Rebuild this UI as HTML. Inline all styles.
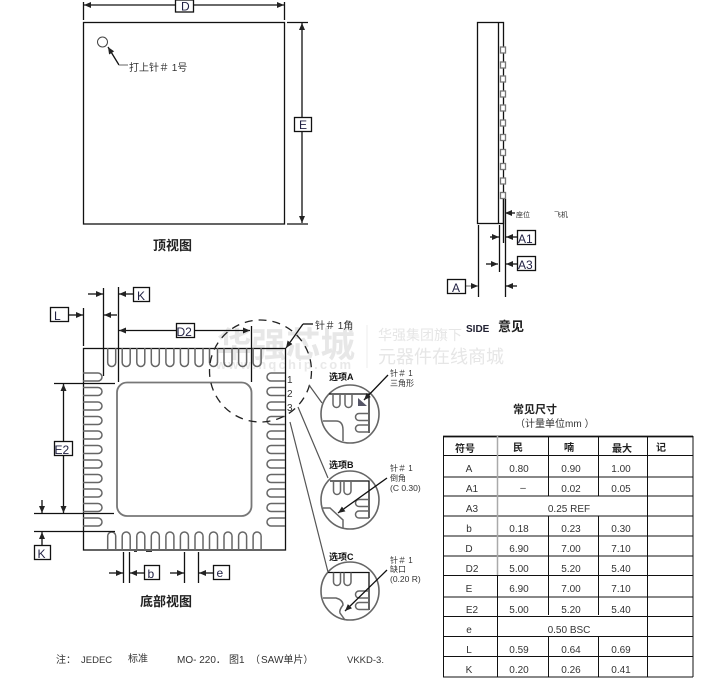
<!DOCTYPE html>
<html><head><meta charset="utf-8"><style>
html,body{margin:0;padding:0;background:#fff;width:716px;height:692px;overflow:hidden}
svg{display:block}
text{font-family:"Liberation Sans","Noto Sans CJK SC",sans-serif;fill:#333}
.l{stroke:#111;stroke-width:1.3;fill:none}
.g{stroke:#666;stroke-width:1.5;fill:none}
.a{marker-end:url(#ah)}
.b{fill:#fff;stroke:#111;stroke-width:1.3}
.t{font-size:12px;fill:#224}
.s{font-size:8px}
.o{font-size:9px;font-weight:bold;fill:#111}
.h{font-size:13px;font-weight:bold;fill:#222}
.c{font-size:10px;text-anchor:middle;fill:#333}
.th{font-size:10px;font-weight:bold;text-anchor:middle;fill:#222}
.f{font-size:10px}
</style></head><body>
<svg width="716" height="692" viewBox="0 0 716 692" xmlns="http://www.w3.org/2000/svg">
<defs>
<marker id="ah" markerUnits="userSpaceOnUse" markerWidth="8" markerHeight="7" refX="7" refY="3" orient="auto"><path d="M0 0L7 3L0 6Z" fill="#222"/></marker>
<path id="pt" d="M-4 348V362.500a4 4 0 0 0 8 0V348" class="g"/>
<path id="pb" d="M-4 550V536a4 4 0 0 1 8 0V550" class="g"/>
<path id="pl" d="M83 -4H98a4 4 0 0 1 0 8H83" class="g"/>
<path id="pr" d="M285 -4H271a4 4 0 0 0 0 8H285" class="g"/>
</defs>

<!-- watermark -->
<g>
<text x="217" y="357" style="font-size:34.500px;font-weight:bold;fill:#e7e7e7">华强芯城</text>
<text x="216" y="369" style="font-size:13px;font-weight:bold;fill:#e9e9e9;letter-spacing:2.200px">www.hqchip.com</text>
<line x1="367" y1="325" x2="367" y2="368" stroke="#eee" stroke-width="1"/>
<text x="378" y="340" style="font-size:14px;fill:#e6e6e6">华强集团旗下</text>
<text x="378" y="363" style="font-size:18px;fill:#e6e6e6">元器件在线商城</text>
</g>

<!-- top view -->
<rect x="83.500" y="22.500" width="201" height="201.500" class="l"/>
<path class="l" d="M83.500 2V20M284.500 2V20M287 22.500H308M287 224H308"/>
<path class="l a" d="M175 5H84"/><path class="l a" d="M193 5H284"/>
<rect x="175.500" y="0" width="18" height="12" class="b"/><text x="181" y="10.500" class="t">D</text>
<path class="l a" d="M302 117V23"/><path class="l a" d="M302 131V223"/>
<rect x="294.500" y="117.500" width="17" height="14" class="b"/><text x="299" y="129" class="t">E</text>
<circle cx="102.500" cy="42" r="5" fill="none" stroke="#444" stroke-width="1"/>
<path class="l a" d="M119 65L108 47"/><path d="M119 65H128" stroke="#999" stroke-width="1.500"/>
<text x="129" y="71" style="font-size:10px">打上针＃ 1号</text>
<text x="153" y="250" class="h">顶视图</text>

<!-- side view -->
<rect x="477.500" y="22.500" width="26" height="201" class="l"/>
<line x1="498.500" y1="22" x2="498.500" y2="224" class="l"/>
<g fill="#fff" stroke="#777" stroke-width="1.300">
<rect x="500.500" y="47" width="5" height="6"/><rect x="500.500" y="62" width="5" height="6"/><rect x="500.500" y="76" width="5" height="6"/><rect x="500.500" y="91" width="5" height="6"/><rect x="500.500" y="105" width="5" height="6"/><rect x="500.500" y="120" width="5" height="6"/><rect x="500.500" y="134.500" width="5" height="6"/><rect x="500.500" y="149.500" width="5" height="6"/><rect x="500.500" y="163.500" width="5" height="6"/><rect x="500.500" y="178" width="5" height="6"/><rect x="500.500" y="192.500" width="5" height="6"/>
</g>
<path class="l" d="M478.500 225V297M499.500 225V272M503.500 243V199M505.500 199V297"/>
<path class="l a" d="M515 213H505"/>
<text x="516" y="217" class="s" style="font-size:7px">座位</text><text x="554" y="217" class="s" style="font-size:7px">飞机</text>
<path class="l a" d="M490 237H499"/><path class="l a" d="M517 237H506"/>
<path class="l a" d="M486 264H498"/><path class="l a" d="M517 264H506"/>
<path class="l a" d="M517 286H506"/>
<path d="M466 286H478" stroke="#888" stroke-width="1.300" marker-end="url(#ah)" fill="none"/>
<rect x="517.500" y="230.500" width="18" height="14" class="b"/><text x="518" y="243" class="t">A1</text>
<rect x="517.500" y="256.500" width="18" height="14" class="b"/><text x="518" y="269" class="t">A3</text>
<rect x="447.500" y="279.500" width="18" height="14" class="b"/><text x="452" y="292" class="t">A</text>
<text x="466" y="332" style="font-size:10px;font-weight:bold;fill:#223">SIDE</text>
<text x="498" y="331" class="h">意见</text>

<!-- bottom view -->
<rect x="83.500" y="348.500" width="202" height="201.500" class="l"/>
<rect x="117" y="382.500" width="134.500" height="133.500" rx="10" fill="none" stroke="#777" stroke-width="1.800"/>
<use href="#pt" x="111.700"/><use href="#pt" x="126.200"/><use href="#pt" x="140.800"/><use href="#pt" x="155.300"/><use href="#pt" x="169.900"/><use href="#pt" x="184.400"/><use href="#pt" x="199"/><use href="#pt" x="213.500"/><use href="#pt" x="228"/><use href="#pt" x="242.600"/><use href="#pt" x="257.100"/>
<use href="#pb" x="111.700"/><use href="#pb" x="126.200"/><use href="#pb" x="140.800"/><use href="#pb" x="155.300"/><use href="#pb" x="169.900"/><use href="#pb" x="184.400"/><use href="#pb" x="199"/><use href="#pb" x="213.500"/><use href="#pb" x="228"/><use href="#pb" x="242.600"/><use href="#pb" x="257.100"/>
<use href="#pl" y="377"/><use href="#pl" y="391.500"/><use href="#pl" y="406"/><use href="#pl" y="420.500"/><use href="#pl" y="435"/><use href="#pl" y="449.500"/><use href="#pl" y="464"/><use href="#pl" y="478.500"/><use href="#pl" y="493"/><use href="#pl" y="507.500"/><use href="#pl" y="522"/>
<use href="#pr" y="377"/><use href="#pr" y="391.500"/><use href="#pr" y="406"/><use href="#pr" y="420.500"/><use href="#pr" y="435"/><use href="#pr" y="449.500"/><use href="#pr" y="464"/><use href="#pr" y="478.500"/><use href="#pr" y="493"/><use href="#pr" y="507.500"/><use href="#pr" y="522"/>
<path d="M134 551.500H137M146 551.500H152" stroke="#333" stroke-width="1"/>

<path class="l" d="M83.500 308V346M103.500 288V376M118.500 287V382M251.500 326V382M54 383.500H115M34 513.500H114M34 531.500H115M123.500 552V583M129.500 552V583M184.500 552V583M198.500 552V583"/>
<path class="l a" d="M88 294H103"/><path class="l a" d="M133 294H119"/>
<path class="l a" d="M68 315H83"/><path class="l a" d="M117 315H104"/>
<path class="l a" d="M176 330.500H119"/><path class="l a" d="M194 330.500H250"/>
<path class="l a" d="M63.500 442V384"/><path class="l a" d="M63.500 455V513"/>
<path class="l a" d="M42 500V513"/><path class="l a" d="M42 546V532"/>
<path class="l a" d="M109 573H123"/><path class="l a" d="M144 573H130"/>
<path class="l a" d="M170 573H184"/><path class="l a" d="M213 573H199"/>
<rect x="50.500" y="307.500" width="18" height="14" class="b"/><text x="54" y="320" class="t">L</text>
<rect x="133.500" y="287.500" width="16" height="14" class="b"/><text x="137" y="300" class="t">K</text>
<rect x="176.500" y="323.500" width="18" height="14" class="b"/><text x="176.500" y="336" class="t">D2</text>
<rect x="54.500" y="441.500" width="18" height="14" class="b"/><text x="54.500" y="454" class="t">E2</text>
<rect x="34.500" y="545.500" width="16" height="14" class="b"/><text x="37.500" y="558" class="t">K</text>
<rect x="144.500" y="565.500" width="15" height="14" class="b"/><text x="147.500" y="578" class="t">b</text>
<rect x="213.500" y="565.500" width="16" height="14" class="b"/><text x="216.500" y="577" class="t">e</text>
<text x="140" y="606" class="h">底部视图</text>

<!-- dashed circle -->
<circle cx="260.500" cy="371" r="51" fill="none" stroke="#222" stroke-width="1.300" stroke-dasharray="8 6"/>
<path class="l" d="M313 324H303"/><path class="l a" d="M303 324L286 348"/>
<text x="315" y="329" style="font-size:10px">针＃ 1角</text>
<text x="287" y="383" style="font-size:10px">1</text><text x="287" y="397" style="font-size:10px">2</text><text x="287" y="411" style="font-size:10px">3</text>

<!-- leaders -->
<path d="M298 407L328 478M290 422L328 572M309 385L322 403" stroke="#555" stroke-width="1.200" fill="none"/>

<!-- option A -->
<circle cx="350" cy="414" r="29" fill="#fff" stroke="#666" stroke-width="1.600"/>
<path class="l" d="M329 394H369V433"/>
<path class="g" d="M333 394V404a3.500 3.500 0 0 0 7 0V394M345 394V404a3.500 3.500 0 0 0 7 0V394M369 413.500H359a3.500 3.500 0 0 0 0 7H369M369 425H359a3.500 3.500 0 0 0 0 7H369M323 421H336Q343 421 343 430V441"/>
<path d="M358 398L367 406H358Z" fill="#556"/>
<path class="l a" d="M388 375L364 400"/>
<text x="329" y="380" class="o">选项A</text>
<text x="390" y="376" class="s">针＃ 1</text><text x="390" y="386" class="s">三角形</text>

<!-- option B -->
<circle cx="350" cy="500" r="29" fill="#fff" stroke="#666" stroke-width="1.600"/>
<path class="l" d="M330 481H369V518"/>
<path class="g" d="M333.500 481V491a3.500 3.500 0 0 0 7 0V481M344 481V491a3.500 3.500 0 0 0 7 0V481M369 499.500H359a3.500 3.500 0 0 0 0 7H369M369 511H359a3.500 3.500 0 0 0 0 7H369M323 508H330L343 520V528"/>
<path class="l a" d="M387 478L338 513"/>
<text x="329" y="468" class="o">选项B</text>
<text x="390" y="471" class="s">针＃ 1</text><text x="390" y="481" class="s">倒角</text><text x="390" y="491" class="s" style="font-size:8.500px">(C 0.30)</text>

<!-- option C -->
<circle cx="350" cy="591" r="29" fill="#fff" stroke="#666" stroke-width="1.600"/>
<path class="l" d="M328 572.500H369V610"/>
<path class="g" d="M333.500 572.500V582a3.500 3.500 0 0 0 7 0V572.500M344 572.500V582a3.500 3.500 0 0 0 7 0V572.500M369 591H359a3.500 3.500 0 0 0 0 7H369M369 602.500H359a3.500 3.500 0 0 0 0 7H369M323 598H336Q343 600 343 605Q339 610 340 613L345 620"/>
<path class="l a" d="M387 570L345 611"/>
<text x="329" y="560" class="o">选项C</text>
<text x="390" y="563" class="s">针＃ 1</text><text x="390" y="572" class="s">缺口</text><text x="390" y="582" class="s" style="font-size:8.500px">(0.20 R)</text>

<!-- footer -->
<g>
<text x="56" y="663" class="f">注：</text><text x="81" y="663" class="f" style="font-size:9.500px">JEDEC</text><text x="128" y="662" class="f">标准</text><text x="177" y="663" class="f">MO- 220．</text><text x="229" y="663" class="f">图1</text><text x="250" y="663" class="f">（</text><text x="261" y="663" class="f">SAW单片）</text><text x="347" y="663" class="f" style="font-size:9.500px">VKKD-3.</text>
</g>

<!-- table -->
<text x="513" y="413" style="font-size:11px;font-weight:bold;fill:#222">常见尺寸</text>
<text x="515" y="427" style="font-size:10px">（计量单位mm ）</text>
<g stroke="#111" stroke-width="1" fill="none">
<path d="M443 436.500H693" stroke-width="1.800"/>
<path d="M443 455.500H693M443 477H693M443 496H693M443 516H693M443 536H693M443 556H693M443 575.500H693M443 597H693M443 616.500H693M443 636.500H693M443 656.500H693M443 677H693"/>
<path d="M443.500 436V677M693 436V677M647.500 436V677"/>
<path d="M548.500 436V496M598.500 436V496M548.500 516V615M598.500 516V615M548.500 636V677M598.500 636V677"/>
<path d="M497.500 575V677"/>
<path d="M497.500 436V575" stroke="#aaa" stroke-width="1.500"/>
</g>
<text x="465" y="452" class="th">符号</text><text x="518" y="451" class="th">民</text><text x="569" y="451" class="th">喃</text><text x="622" y="452" class="th">最大</text><text x="661" y="451" class="th">记</text>
<text x="469" y="472" class="c">A</text><text x="519" y="472" class="c">0.80</text><text x="571" y="472" class="c">0.90</text><text x="621" y="472" class="c">1.00</text>
<text x="472" y="492" class="c">A1</text><text x="523" y="491" class="c">–</text><text x="571" y="492" class="c">0.02</text><text x="621" y="492" class="c">0.05</text>
<text x="472" y="512" class="c">A3</text><text x="569" y="512" class="c">0.25 REF</text>
<text x="469" y="532" class="c">b</text><text x="519" y="532" class="c">0.18</text><text x="571" y="532" class="c">0.23</text><text x="621" y="532" class="c">0.30</text>
<text x="469" y="552" class="c">D</text><text x="519" y="552" class="c">6.90</text><text x="571" y="552" class="c">7.00</text><text x="621" y="552" class="c">7.10</text>
<text x="472" y="572" class="c">D2</text><text x="519" y="572" class="c">5.00</text><text x="571" y="572" class="c">5.20</text><text x="621" y="572" class="c">5.40</text>
<text x="469" y="592" class="c">E</text><text x="519" y="592" class="c">6.90</text><text x="571" y="592" class="c">7.00</text><text x="621" y="592" class="c">7.10</text>
<text x="472" y="613" class="c">E2</text><text x="519" y="613" class="c">5.00</text><text x="571" y="613" class="c">5.20</text><text x="621" y="613" class="c">5.40</text>
<text x="469" y="633" class="c">e</text><text x="569" y="633" class="c">0.50 BSC</text>
<text x="469" y="653" class="c">L</text><text x="519" y="653" class="c">0.59</text><text x="571" y="653" class="c">0.64</text><text x="621" y="653" class="c">0.69</text>
<text x="469" y="673" class="c">K</text><text x="519" y="673" class="c">0.20</text><text x="571" y="673" class="c">0.26</text><text x="621" y="673" class="c">0.41</text>
</svg>
</body></html>
